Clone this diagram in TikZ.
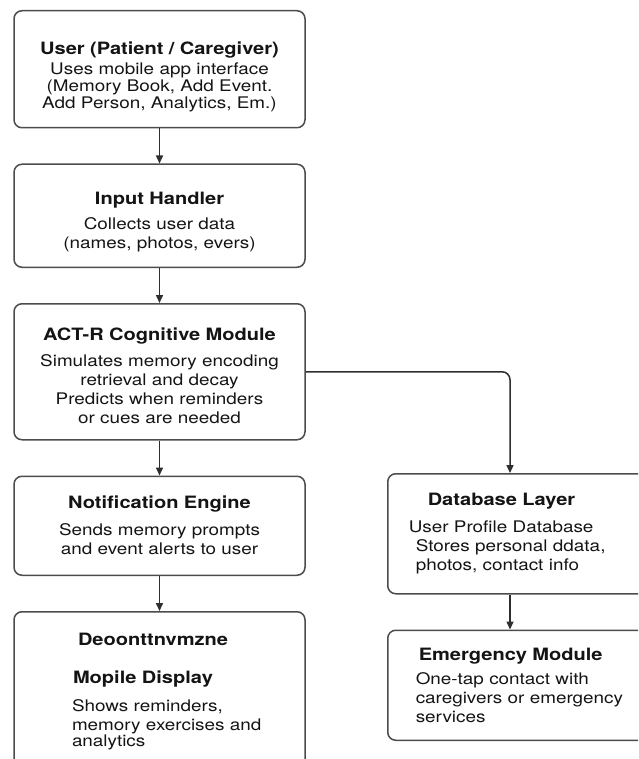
\documentclass[tikz,border=0pt]{standalone}
\usepackage{fontspec}
\setmainfont{TeX Gyre Heros}[FakeStretch=1.18]
\usetikzlibrary{arrows.meta,positioning}

\begin{document}
\begin{tikzpicture}[
  x=1pt, y=-1pt,
  node distance=35pt,
  box/.style={rectangle, rounded corners=8pt, draw=black!70, line width=1.5pt,
              minimum width=291pt, inner ysep=0pt, inner xsep=8pt, text width=275pt,
              align=center, text=black!92, font=\fontsize{16}{19}\selectfont},
  sidebox/.style={box, align=left, text width=250pt, inner xsep=21pt},
  arr/.style={-{Triangle[length=8pt,width=7pt]}, line width=1.5pt, draw=black!82}
]
\useasboundingbox (0,0) rectangle (638,759);
\clip (0,0) rectangle (638,759);

% left column
\node[box, anchor=north, minimum height=117pt] (user) at (159.5,10)
  {\rule{0pt}{27pt}{\fontsize{17}{19}\bfseries User (Patient / Caregiver)}\\[1pt]
   Uses mobile app interface\\[-2pt] (Memory Book, Add Event.\\[-2pt] Add Person, Analytics, Em.)};
\node[box, below=of user, minimum height=103pt] (input)
  {\rule{0pt}{24pt}{\fontsize{17}{19}\bfseries Input Handler}\\[6pt]
   Collects user data\\ (names, photos, evers)};
\node[box, below=of input, minimum height=136pt] (actr)
  {\rule{0pt}{21pt}{\fontsize{17}{19}\bfseries ACT-R Cognitive Module}\\[7pt]
   Simulates memory encoding\\ retrieval and decay\\ Predicts when reminders\\ or cues are needed};
\node[box, below=of actr, minimum height=99pt] (notif)
  {{\fontsize{17}{19}\bfseries Notification Engine}\\[8pt]
   Sends memory prompts\\ and event alerts to user};
\node[box, below=of notif, minimum height=160pt, align=left, text width=211pt, inner xsep=40pt] (display)
  {\hspace*{24pt}{\fontsize{17}{19}\bfseries Deoonttnvmzne}\\[19pt]
   \hspace*{19pt}{\fontsize{17}{19}\bfseries Mopile Display}\\[9pt]
   \hspace*{18pt}Shows reminders,\\ \hspace*{18pt}memory exercises and\\[-3pt] \hspace*{18pt}analytics};

% right column
\coordinate (rcol) at (510,0);
\node[sidebox, anchor=north west, minimum height=120pt] (db) at (387,473)
  {\hspace*{19pt}{\fontsize{17}{19}\bfseries Database Layer}\\[8pt]
   User Profile Database\\ \hspace*{7pt}Stores personal ddata,\\ \hspace*{7pt}photos, contact info};
\node[sidebox, below=of db, minimum height=110pt] (emerg)
  {\hspace*{10pt}{\fontsize{17}{19}\bfseries Emergency Module}\\[5pt]
   \hspace*{7pt}One-tap contact with\\ \hspace*{7pt}caregivers or emergency\\ \hspace*{7pt}services};

\draw[arr] (user) -- (input);
\draw[arr] (input) -- (actr);
\draw[arr] (actr) -- (notif);
\draw[arr] (notif) -- (display);
\draw[arr, rounded corners=8pt] (actr.east) -| (db.north -| rcol);
\draw[arr] (db.south -| rcol) -- (emerg.north -| rcol);
\end{tikzpicture}
\end{document}
